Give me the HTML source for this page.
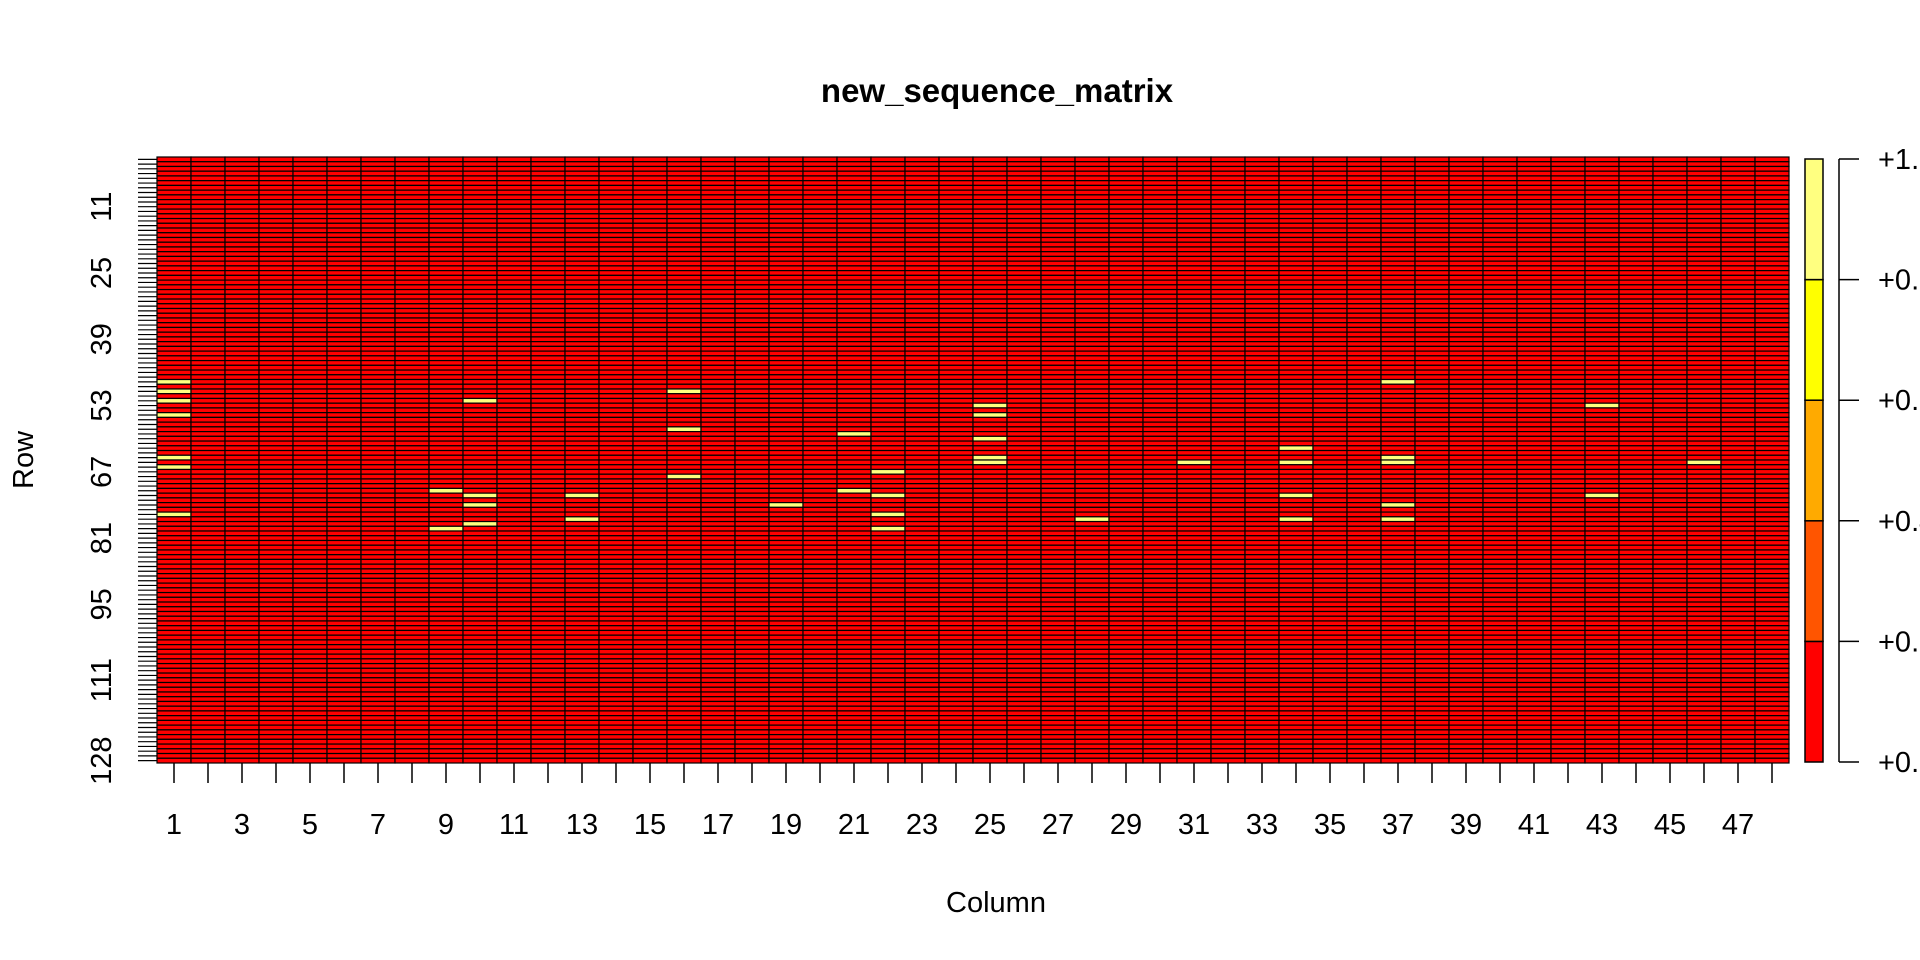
<!DOCTYPE html>
<html><head><meta charset="utf-8"><style>
html,body{margin:0;padding:0;background:#fff;overflow:hidden;width:1920px;height:960px}
svg{display:block;font-family:"Liberation Sans",Arial,sans-serif}
</style></head><body>
<svg id="chart" width="1920" height="960" viewBox="0 0 1920 960">
<text x="997" y="102" text-anchor="middle" font-size="33" font-weight="bold">new_sequence_matrix</text>
<text x="996" y="912" text-anchor="middle" font-size="29">Column</text>
<text transform="translate(33,460) rotate(-90)" text-anchor="middle" font-size="29">Row</text>
<g id="cells"></g>
<g id="axes"></g>
<g id="legend"></g>
</svg>
<script>
const nRows = 128;
const nCols = 48;
// highlighted cells (value 1): column -> list of rows
const hotCols = [1,1,1,1,1,1,1, 9,9, 10,10,10,10, 13,13, 16,16,16, 19, 21,21, 22,22,22,22, 25,25,25,25,25, 28, 31, 34,34,34,34, 37,37,37,37,37, 43,43, 46];
const hotRows = [48,50,52,55,64,66,76, 71,79, 52,72,74,78, 72,77, 50,58,68, 74, 59,71, 67,72,76,79, 53,55,60,64,65, 77, 65, 62,65,72,77, 48,64,65,74,77, 53,72, 65];
const xTickLabels = [1,3,5,7,9,11,13,15,17,19,21,23,25,27,29,31,33,35,37,39,41,43,45,47];
const yTickLabels = [11,25,39,53,67,81,95,111,128];
const legendBreaks = [0,0.2,0.4,0.6,0.8,1.0];
const legendLabels = ["+0.0","+0.2","+0.4","+0.6","+0.8","+1.0"];
const legendColors = ["#FF0000","#FF5500","#FFAA00","#FFFF00","#FFFF80"];

const NS = "http://www.w3.org/2000/svg";
const L = 157, R = 1789, T = 157, B = 763;
const cw = (R - L) / nCols, rh = (B - T) / nRows;
const xCol = c => L + (c - 1) * cw;
const yRow = r => T + (r - 1) * rh;
function mk(tag, attrs, parent){const e=document.createElementNS(NS,tag);for(const k in attrs)e.setAttribute(k,attrs[k]);parent.appendChild(e);return e;}

const vals = [];
for (let r = 1; r <= nRows; r++) { vals[r] = new Array(nCols + 1).fill(0); }
hotCols.forEach((c, i) => { vals[hotRows[i]][c] = 1; });

const cells = document.getElementById('cells');
const colorFor = v => legendColors[Math.min(legendColors.length - 1, Math.floor(v * legendColors.length))];
for (let r = 1; r <= nRows; r++) {
  for (let c = 1; c <= nCols; c++) {
    const e = mk('rect', {x:xCol(c), y:yRow(r), width:cw, height:rh, fill:colorFor(vals[r][c]), stroke:'#000', 'stroke-width':1.2}, cells);
    
    
  }
}

const axes = document.getElementById('axes');
for (let c = 1; c <= nCols; c++) {
  const x = xCol(c) + cw / 2;
  const t = mk('line', {x1:x, x2:x, y1:B, y2:B + 20, stroke:'#000', 'stroke-width':1.5}, axes);
  
  
}
xTickLabels.forEach(v => {
  const t = mk('text', {x:xCol(v) + cw / 2, y:834, 'text-anchor':'middle', 'font-size':29}, axes);
  t.textContent = v;
  
  
});
for (let r = 1; r <= nRows; r++) {
  const y = yRow(r) + rh / 2;
  const t = mk('line', {x1:138, x2:L, y1:y, y2:y, stroke:'#000', 'stroke-width':1.2}, axes);
  
  
}
yTickLabels.forEach(v => {
  const y = yRow(v) + rh / 2;
  const t = mk('text', {transform:'translate(111,' + y + ') rotate(-90)', 'text-anchor':'middle', 'font-size':29}, axes);
  t.textContent = v;
  
  
});

const lg = document.getElementById('legend');
const lT = 159, lB = 762, lx = 1805, lw = 18;
const ly = v => lB - (v - legendBreaks[0]) / (legendBreaks[legendBreaks.length - 1] - legendBreaks[0]) * (lB - lT);
legendColors.forEach((col, i) => {
  const y0 = ly(legendBreaks[i + 1]), y1 = ly(legendBreaks[i]);
  const e = mk('rect', {x:lx, y:y0, width:lw, height:y1 - y0, fill:col, stroke:'#000', 'stroke-width':1.5}, lg);
  
  
});
const ax = mk('line', {x1:1839, x2:1839, y1:lT, y2:lB, stroke:'#000', 'stroke-width':1.5}, lg);


legendBreaks.forEach((b, i) => {
  const y = ly(b);
  const t = mk('line', {x1:1839, x2:1859, y1:y, y2:y, stroke:'#000', 'stroke-width':1.5}, lg);
  
  
  const tx = mk('text', {x:1878, y:y + 10, 'font-size':29}, lg);
  tx.textContent = legendLabels[i];
  
  
});
</script>
</body></html>
